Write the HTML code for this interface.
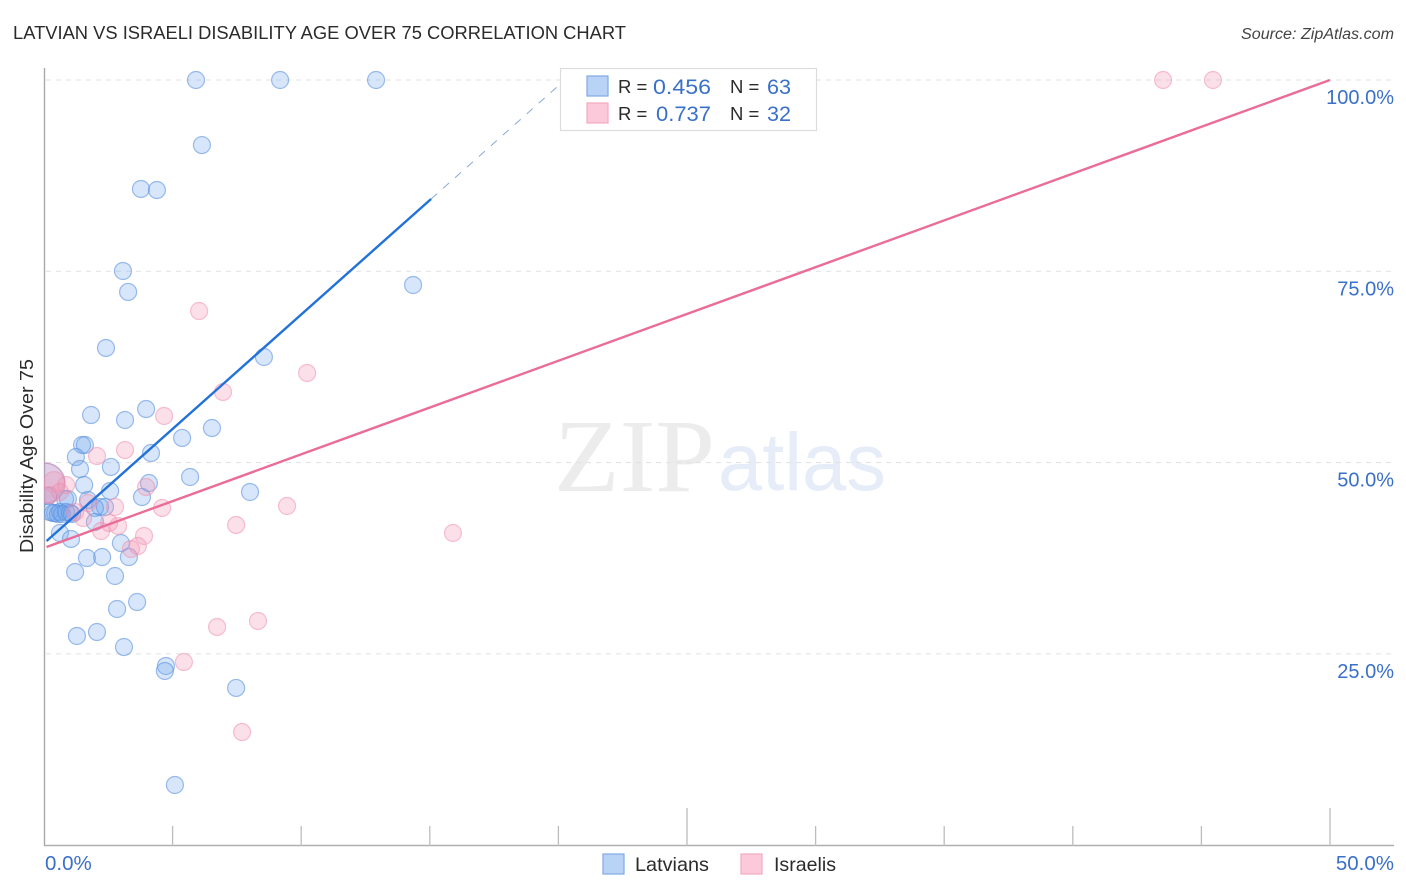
<!DOCTYPE html>
<html>
<head>
<meta charset="utf-8">
<title>Latvian vs Israeli Disability Age Over 75 Correlation Chart</title>
<style>
html,body{margin:0;padding:0;background:#fff;}
svg{display:block;font-family:"Liberation Sans",sans-serif;}
</style>
</head>
<body>
<svg id="chart" width="1406" height="892" viewBox="0 0 1406 892" xmlns="http://www.w3.org/2000/svg">
  <rect x="0" y="0" width="1406" height="892" fill="#ffffff"/>
  <text x="13" y="39" font-size="18.5" fill="#2b2b2b" textLength="613" lengthAdjust="spacingAndGlyphs">LATVIAN VS ISRAELI DISABILITY AGE OVER 75 CORRELATION CHART</text>
  <text x="1241" y="39" font-size="15.5" font-style="italic" fill="#444444" textLength="153" lengthAdjust="spacingAndGlyphs">Source: ZipAtlas.com</text>
  <text x="554" y="491" font-size="104" font-family="'Liberation Serif',serif" fill="#ececec" textLength="161" lengthAdjust="spacingAndGlyphs">ZIP</text>
  <text x="718" y="490" font-size="82" font-family="'Liberation Sans',sans-serif" fill="#e6edf9" textLength="168" lengthAdjust="spacingAndGlyphs">atlas</text>
  <g id="grid"></g>
  <g id="axes"></g>
  <g id="trend"></g>
  <g id="points"></g>
  <g id="ylabels"></g>
  <g id="xlabels"></g>
  <text transform="translate(33,456) rotate(-90)" font-size="18" fill="#2b2b2b" text-anchor="middle" textLength="194" lengthAdjust="spacingAndGlyphs">Disability Age Over 75</text>

  <g>
    <rect x="560.5" y="68.5" width="256" height="62" fill="#ffffff" stroke="#dcdcdc" stroke-width="1.2"/>
    <rect x="587" y="76" width="21" height="20" fill="#b9d3f7" stroke="#7fa9e3" stroke-width="1.2"/>
    <rect x="587" y="103" width="21" height="20" fill="#fcc9da" stroke="#f2a9c1" stroke-width="1.2"/>
    <text x="618" y="93" font-size="18.5" fill="#2b2b2b">R =</text>
    <text x="653" y="94" font-size="21" fill="#3a70c9" textLength="58" lengthAdjust="spacingAndGlyphs">0.456</text>
    <text x="730" y="93" font-size="18.5" fill="#2b2b2b">N =</text>
    <text x="767" y="94" font-size="21" fill="#3a70c9" textLength="24" lengthAdjust="spacingAndGlyphs">63</text>
    <text x="618" y="120" font-size="18.5" fill="#2b2b2b">R =</text>
    <text x="656" y="121" font-size="21" fill="#3a70c9" textLength="55" lengthAdjust="spacingAndGlyphs">0.737</text>
    <text x="730" y="120" font-size="18.5" fill="#2b2b2b">N =</text>
    <text x="767" y="121" font-size="21" fill="#3a70c9" textLength="24" lengthAdjust="spacingAndGlyphs">32</text>
  </g>

  <g>
    <rect x="603" y="854" width="21" height="20" fill="#b9d3f7" stroke="#7fa9e3" stroke-width="1.2"/>
    <text x="635" y="871" font-size="19.5" fill="#2b2b2b" textLength="74" lengthAdjust="spacingAndGlyphs">Latvians</text>
    <rect x="741" y="854" width="21" height="20" fill="#fcc9da" stroke="#f2a9c1" stroke-width="1.2"/>
    <text x="774" y="871" font-size="19.5" fill="#2b2b2b" textLength="62" lengthAdjust="spacingAndGlyphs">Israelis</text>
  </g>
</svg>
<script>
const latvianX = [5.91,9.18,12.91,6.14,3.77,4.39,3.07,3.27,14.35,2.41,8.55,1.83,3.15,3.97,5.37,6.53,1.48,1.59,1.24,4.16,2.6,1.4,1.56,4.08,2.57,3.81,5.68,8.01,0.16,0.82,0.93,1.71,2.18,2.37,1.98,1.98,0.62,1.05,2.99,3.3,1.67,2.26,1.21,2.76,3.62,2.84,1.28,2.06,3.11,4.74,4.7,7.47,5.09,0.23,0.35,0.43,0.54,0.62,0.7,0.86,1.01,1.09,0.04];
const latvianY = [100,100,100,91.5,85.76,85.62,75.04,72.3,73.21,64.98,63.8,56.22,55.57,57,53.22,54.52,52.3,52.3,50.73,51.25,49.43,49.16,47.07,47.33,46.29,45.5,48.12,46.16,45.64,45.24,45.24,45.11,44.2,44.2,44.07,42.24,40.8,40.02,39.49,37.66,37.53,37.66,35.7,35.18,31.78,30.87,27.34,27.86,25.9,23.42,22.77,20.55,7.87,43.54,43.41,43.41,43.28,43.54,43.28,43.54,43.41,43.28,47.33];
const latvianWeight = [1,1,1,1,1,1,1,1,1,1,1,1,1,1,1,1,1,1,1,1,1,1,1,1,1,1,1,1,1,1,1,1,1,1,1,1,1,1,1,1,1,1,1,1,1,1,1,1,1,1,1,1,1,1,1,1,1,1,1,1,1,1,5.5];
const israeliX = [43.51,45.45,6.03,10.23,6.96,4.67,3.15,2.06,0.86,0.39,0.04,3.97,4.59,7.47,9.45,2.76,1.71,1.21,1.52,2.53,2.88,2.22,3.89,3.65,3.38,6.73,8.32,5.44,7.7,15.9,0.23,0.62];
const israeliY = [100,100,69.81,61.71,59.23,56.09,51.65,50.86,47.07,47.47,47.33,46.81,44.07,41.85,44.33,44.2,44.72,43.54,42.76,42.11,41.72,41.06,40.41,39.1,38.71,28.52,29.3,23.94,14.79,40.8,45.77,46.16];
const israeliWeight = [1,1,1,1,1,1,1,1,1,1.5,5.5,1,1,1,1,1,1,1,1,1,1,1,1,1,1,1,1,1,1,1,1,1];
const latvianTrendX = [0.1,15.05];
const latvianTrendY = [39.75,84.45];
const latvianDashX = [15.05,19.95];
const latvianDashY = [84.45,99.1];
const israeliTrendX = [0.1,50];
const israeliTrendY = [38.97,100];
const yTicks = [100,75,50,25];
const yTickLabels = ["100.0%","75.0%","50.0%","25.0%"];
const xTicks = [5,10,15,20,25,30,35,40,45,50];
const xMajorTicks = [25,50];
const xEdgeValues = [0,50];
const xEdgeLabels = ["0.0%","50.0%"];

const NS = "http://www.w3.org/2000/svg";
function xScale(v){ return 44 + v * 25.72; }
function yScale(v){ return 80 + (100 - v) * 7.652; }
function make(tag, attrs, parent){
  const el = document.createElementNS(NS, tag);
  for (const k in attrs) el.setAttribute(k, attrs[k]);
  parent.appendChild(el);
  return el;
}
const grid = document.getElementById("grid");
const axes = document.getElementById("axes");
const trend = document.getElementById("trend");
const points = document.getElementById("points");
const ylabels = document.getElementById("ylabels");
const xlabels = document.getElementById("xlabels");

yTicks.forEach(function(t, i){
  const g = make("line", {x1:46, x2:1394, y1:yScale(t), y2:yScale(t), stroke:"#e0e1e4", "stroke-width":1, "stroke-dasharray":"5 5"}, grid);
  
  
  const lab = make("text", {x:1394, y:yScale(t)+24, "font-size":20, fill:"#3a70c9", "text-anchor":"end"}, ylabels);
  lab.textContent = yTickLabels[i];
  
  
});

const yAxis = make("line", {x1:44.5, x2:44.5, y1:68, y2:846, stroke:"#a8a8a8", "stroke-width":1.4}, axes);


const xAxis = make("line", {x1:44, x2:1394, y1:845.5, y2:845.5, stroke:"#b0b0b0", "stroke-width":1.4}, axes);


xTicks.forEach(function(t){
  const top = xMajorTicks.indexOf(t) >= 0 ? 808 : 826;
  const tick = make("line", {x1:xScale(t), x2:xScale(t), y1:top, y2:846, stroke:"#bdbdbd", "stroke-width":1.3}, axes);
  
  
});
xEdgeValues.forEach(function(v, i){
  const lab = make("text", {x: i === 0 ? 45 : 1394, y:870, "font-size":20.5, fill:"#3a70c9", "text-anchor": i === 0 ? "start" : "end"}, xlabels);
  lab.textContent = xEdgeLabels[i];
  
  
});

const clip = make("clipPath", {id:"plot-clip"}, document.getElementById("chart"));
make("rect", {x:44, y:60, width:1362, height:790}, clip);
points.setAttribute("clip-path", "url(#plot-clip)");

latvianX.forEach(function(v, i){
  const c = make("circle", {cx:xScale(v), cy:yScale(latvianY[i]), r:8.5*Math.sqrt(latvianWeight[i]), fill:"#6fa5ec", "fill-opacity":0.28, stroke:"#5d93e0", "stroke-opacity":0.6, "stroke-width":1.2}, points);
  
  
});
israeliX.forEach(function(v, i){
  const c = make("circle", {cx:xScale(v), cy:yScale(israeliY[i]), r:8.5*Math.sqrt(israeliWeight[i]), fill:"#f58fb0", "fill-opacity":0.28, stroke:"#ee8fae", "stroke-opacity":0.55, "stroke-width":1.2}, points);
  
  
});

const latvianDash = make("line", {x1:xScale(latvianDashX[0]), y1:yScale(latvianDashY[0]), x2:xScale(latvianDashX[1]), y2:yScale(latvianDashY[1]), stroke:"#8aa8d8", "stroke-width":1, "stroke-dasharray":"8 8"}, trend);


const latvianLine = make("line", {x1:xScale(latvianTrendX[0]), y1:yScale(latvianTrendY[0]), x2:xScale(latvianTrendX[1]), y2:yScale(latvianTrendY[1]), stroke:"#2272d9", "stroke-width":2.4}, trend);


const israeliLine = make("line", {x1:xScale(israeliTrendX[0]), y1:yScale(israeliTrendY[0]), x2:xScale(israeliTrendX[1]), y2:yScale(israeliTrendY[1]), stroke:"#ea6c97", "stroke-width":2.4}, trend);



// trend lines are drawn over the points, as in the source chart
document.getElementById("chart").insertBefore(points, trend);
</script>
</body>
</html>
